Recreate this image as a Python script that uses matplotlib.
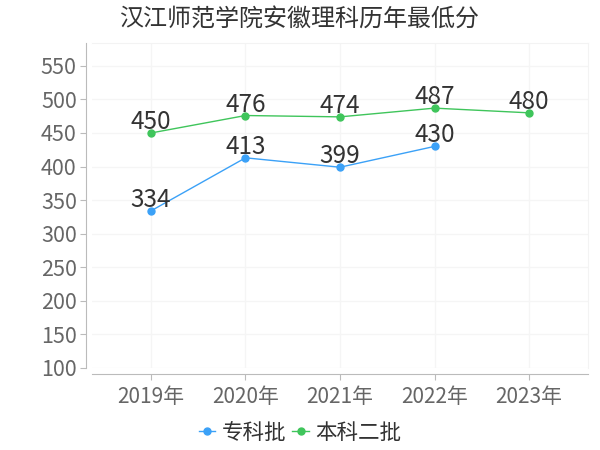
import matplotlib
matplotlib.use("Agg")
import matplotlib.pyplot as plt

plt.rcParams['font.family'] = ['Noto Sans CJK SC', 'DejaVu Sans']

years = ["2019年", "2020年", "2021年", "2022年", "2023年"]
zhuanke = [334, 413, 399, 430]        # 专科批 (no 2023)
benke2 = [450, 476, 474, 487, 480]    # 本科二批
yticks = [100, 150, 200, 250, 300, 350, 400, 450, 500, 550]

blue = "#3ba1f7"
green = "#3fc55b"

fig = plt.figure(figsize=(6, 4.5), dpi=100)
ax = fig.add_axes([92 / 600, 82 / 450, 496 / 600, 325 / 450])

x_all = list(range(len(years)))

# 折线
ax.plot(x_all[:len(zhuanke)], zhuanke, color=blue, lw=1, marker="o", ms=5,
        label="专科批", zorder=3)
ax.plot(x_all, benke2, color=green, lw=1, marker="o", ms=5,
        label="本科二批", zorder=3)

# 数据标签
for xs, ys in ((x_all[:len(zhuanke)], zhuanke), (x_all, benke2)):
    for x, y in zip(xs, ys):
        ax.annotate(str(y), (x, y), xytext=(0, 4), textcoords="offset pixels",
                    ha="center", va="baseline", fontsize=17.5, color="#333333",
                    zorder=4)

ax.set_xlim(-0.624, 4.624)
ax.set_ylim(100, 584)
ax.set_xticks(x_all)
ax.set_xticklabels(years)
ax.set_yticks(yticks)

ax.grid(True, color="#f5f5f5", lw=1)
ax.set_axisbelow(True)

for side in ("top", "right"):
    ax.spines[side].set_color("#f3f3f3")
for side in ("left", "bottom"):
    ax.spines[side].set_color("#bbbbbb")
    ax.spines[side].set_position(("outward", 4))

ax.tick_params(axis="both", colors="#bbbbbb", labelcolor="#666666", length=4)
ax.tick_params(axis="x", pad=5, labelsize=15)
ax.tick_params(axis="y", pad=3, labelsize=15.5)

fig.text(0.5, 1 - 18.5 / 450, "汉江师范学院安徽理科历年最低分",
         ha="center", va="center", fontsize=17.3, color="#333333")

fig.legend(loc="center", bbox_to_anchor=(0.5, 1 - 433 / 450), ncol=2,
           frameon=False, fontsize=15.5, handlelength=0.75,
           handletextpad=0.3, columnspacing=0.3, borderpad=0,
           labelcolor="#333333")

fig.savefig("out.png", dpi=100)
